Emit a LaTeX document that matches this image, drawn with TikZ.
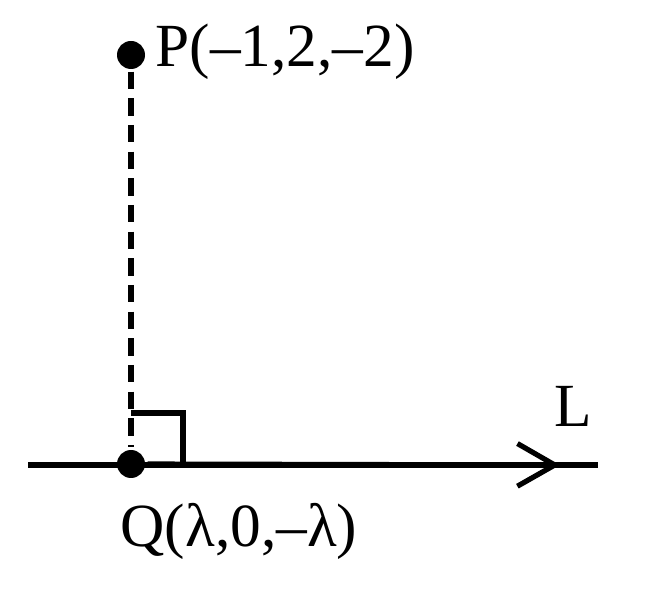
\documentclass[tikz,border=0pt]{standalone}
\usepackage{fontspec}
\setmainfont{Liberation Serif}
\usepackage{tikz}
\usetikzlibrary{positioning,arrows.meta}

\begin{document}
\begin{tikzpicture}[
    x=0.75pt, y=-0.75pt,
    line width=3.9pt,
    font={\fontsize{46}{55}\selectfont},
    dot/.style={circle,fill=black,inner sep=0pt,minimum size=21pt},
    label/.style={inner sep=0pt,anchor=base west},
    perp/.style={dash pattern=on 13pt off 7pt},
]
    \useasboundingbox (0,0) rectangle (654,598);

    % points
    \node[dot] (P) at (131,55) {};
    \node[dot] (Q) at (131,464) {};
    \node[label] (Plabel) at (153,67) {P(–1,2,–2)};
    \node[label] (Qlabel) at (118,547) {Q(λ,0,–λ)};

    % line L
    \coordinate (Lstart) at (28,465);
    \coordinate (Lend) at (598,465);
    \coordinate (Ltip) at (560,465);
    \draw (Lstart) -- (Lend);
    \draw[-{Straight Barb[length=28pt,width=32pt,line width=3.9pt]}] (Q) -- (Ltip);
    \node[label] (Llabel) at (552,427) {L};

    % perpendicular
    \draw[perp] (P) -- (Q);
    \draw (131,413) -- (183,413) -- (183,465);

\end{tikzpicture}
\end{document}
